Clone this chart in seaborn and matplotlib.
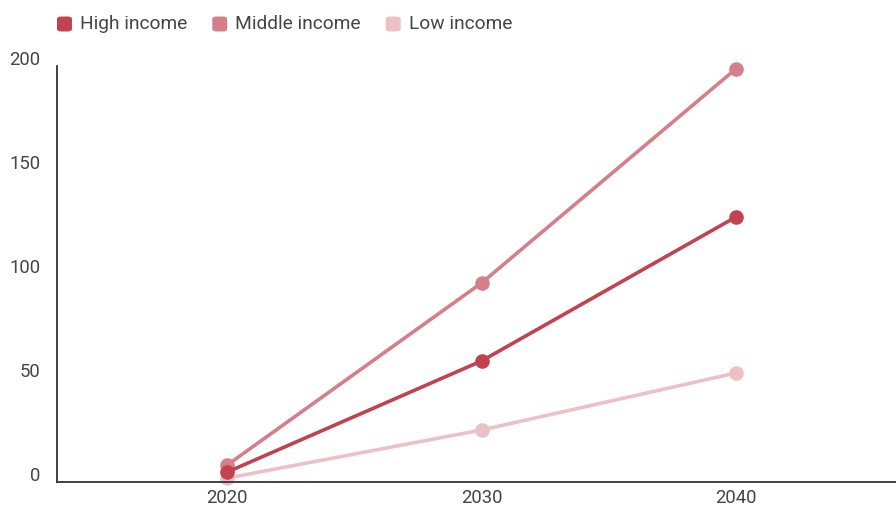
import matplotlib
matplotlib.use("Agg")
import matplotlib.pyplot as plt
import matplotlib.transforms as mtransforms
from matplotlib.patches import FancyBboxPatch
import seaborn as sns
import pandas as pd

years = [2020, 2030, 2040]
high_income = [4.8, 58.2, 127.4]
middle_income = [8.2, 95.7, 198.6]
low_income = [1.9, 25.0, 52.4]

series_names = ["High income", "Middle income", "Low income"]
series_colors = ["#c0434f", "#d47f8a", "#ebc1c6"]
y_ticks = [0, 50, 100, 150, 200]
x_ticks = [2020, 2030, 2040]

df = pd.DataFrame({
    "year": years * 3,
    "value": high_income + middle_income + low_income,
    "group": [series_names[0]] * 3 + [series_names[1]] * 3 + [series_names[2]] * 3,
})

sns.set_theme(style="white")
plt.rcParams["font.family"] = ["Roboto", "DejaVu Sans"]

TEXT_COLOR = "#454545"
FONT_SIZE = 13.3

fig = plt.figure(figsize=(8.96, 5.07), dpi=100)
ax = fig.add_axes([57 / 896, 1 - 482 / 507, 1 - 57 / 896, (482 - 66) / 507])

palette = dict(zip(series_names, series_colors))
sns.lineplot(
    data=df, x="year", y="value", hue="group",
    hue_order=["Low income", "Middle income", "High income"],
    palette=palette, marker="o", markersize=10.5, markeredgewidth=0,
    linewidth=2.6, legend=False, ax=ax, clip_on=False,
)

ax.set_xlim(2013.3, 2046.3)
ax.set_ylim(0, 200)
ax.set_xticks(x_ticks)
ax.set_yticks(y_ticks)
ax.set_xlabel("")
ax.set_ylabel("")
ax.tick_params(axis="both", length=0, labelsize=FONT_SIZE, labelcolor=TEXT_COLOR)
ax.tick_params(axis="x", pad=5)
ax.tick_params(axis="y", pad=12)
for lbl in ax.get_yticklabels():
    lbl.set_transform(lbl.get_transform() + mtransforms.ScaledTranslation(0, 8 / 100, fig.dpi_scale_trans))

for side in ["top", "right"]:
    ax.spines[side].set_visible(False)
for side in ["left", "bottom"]:
    ax.spines[side].set_color("#333333")
    ax.spines[side].set_linewidth(1.3)

# legend row across the top
fig.canvas.draw()
renderer = fig.canvas.get_renderer()
x_px = 57
y_center = 24
sq = 15
for name, color in zip(series_names, series_colors):
    patch = FancyBboxPatch(
        (x_px / 896, (507 - y_center - sq / 2) / 507), sq / 896, sq / 507,
        boxstyle="round,pad=0,rounding_size=0.005", transform=fig.transFigure,
        facecolor=color, edgecolor="none",
    )
    fig.patches.append(patch)
    t = fig.text((x_px + sq + 8) / 896, (507 - y_center) / 507, name,
                 fontsize=FONT_SIZE + 0.5, color=TEXT_COLOR, va="center", ha="left")
    bb = t.get_window_extent(renderer)
    x_px = bb.x1 + 25

fig.savefig("out.png", dpi=100)
